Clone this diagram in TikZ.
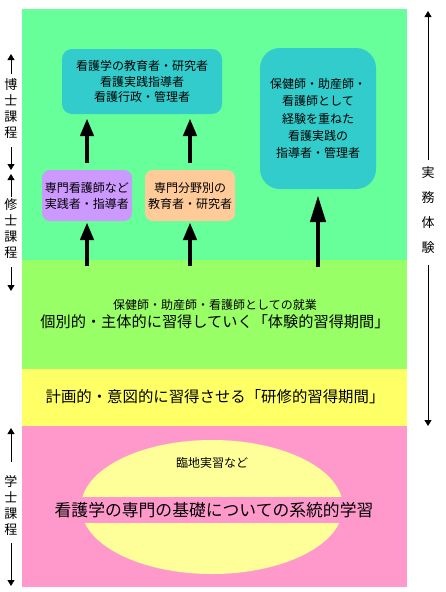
\documentclass[tikz,border=0pt]{standalone}
\usepackage{fontspec}
\setmainfont{Noto Sans CJK JP}
\usetikzlibrary{arrows.meta}
\definecolor{bgA}{HTML}{66FF99}
\definecolor{bgB}{HTML}{99FF66}
\definecolor{bgC}{HTML}{FFFF66}
\definecolor{bgD}{HTML}{FF99CC}
\definecolor{ellC}{HTML}{FFFF99}
\definecolor{cyanC}{HTML}{33CCCC}
\definecolor{purpC}{HTML}{CC99FF}
\definecolor{orgC}{HTML}{FFCC99}
\begin{document}
\begin{tikzpicture}[x=1pt,y=-1pt,
  boxtext/.style={inner sep=0pt, align=center, font=\fontsize{12}{15.5}\selectfont},
  bigarrow/.style={line width=4.5pt, -{Triangle[length=18pt,width=13pt]}},
  longarrow/.style={line width=4.5pt, -{Triangle[length=27pt,width=15pt]}},
  thinarrow/.style={line width=0.8pt, -{Triangle[length=6pt,width=7pt]}},
  sidelab/.style={inner sep=0pt, align=center, font=\fontsize{13}{15.7}\selectfont},
  bandtext/.style={inner sep=0pt, align=center}]
\useasboundingbox (0,0) rectangle (446,592);
\fill[white] (0,0) rectangle (446,592);
% bands
\fill[bgA] (22,9) rectangle (407,260);
\fill[bgB] (22,260) rectangle (407,369);
\fill[bgC] (22,369) rectangle (407,426);
\fill[bgD] (22,426) rectangle (407,587);
% ellipse
\fill[ellC] (212,507) ellipse [x radius=131, y radius=67];
% boxes
\node[boxtext, fill=cyanC, rounded corners=10pt, minimum width=160pt, minimum height=65pt] (doc) at (142,81.5)
  {看護学の教育者・研究者\\看護実践指導者\\看護行政・管理者};
\node[boxtext, fill=cyanC, rounded corners=20pt, minimum width=116pt, minimum height=141pt,
  font=\fontsize{12}{17.2}\selectfont] (prac) at (318,118.5)
  {保健師・助産師・\\看護師として\\経験を重ねた\\看護実践の\\指導者・管理者};
\node[boxtext, fill=purpC, rounded corners=8pt, minimum width=90pt, minimum height=51pt,
  font=\fontsize{12}{16}\selectfont] (spec) at (87,195.5)
  {専門看護師など\\実践者・指導者};
\node[boxtext, fill=orgC, rounded corners=8pt, minimum width=90pt, minimum height=51pt,
  font=\fontsize{12}{16}\selectfont] (field) at (190,195.5)
  {専門分野別の\\教育者・研究者};
% big arrows
\coordinate (s1) at (87,266);
\coordinate (s2) at (190,266);
\coordinate (s3) at (318,267);
\draw[bigarrow, shorten >=1pt] (s1) -- (spec.south);
\draw[bigarrow, shorten >=1pt] (s2) -- (field.south);
\draw[longarrow, shorten >=6pt] (s3) -- (prac.south);
\draw[bigarrow, shorten <=7pt, shorten >=4pt] (spec.north) -- (spec.north |- doc.south);
\draw[bigarrow, shorten <=7pt, shorten >=4pt] (field.north) -- (field.north |- doc.south);
% band texts
\node[bandtext, font=\fontsize{12}{14}\selectfont] (job) at (215,305) {保健師・助産師・看護師としての就業};
\node[bandtext, font=\fontsize{15.2}{18}\selectfont] (exp) at (215,322) {個別的・主体的に習得していく「体験的習得期間」};
\node[bandtext, font=\fontsize{15.4}{18}\selectfont] (train) at (215,397) {計画的・意図的に習得させる「研修的習得期間」};
\node[bandtext, font=\fontsize{12}{14}\selectfont] (clin) at (212,463) {臨地実習など};
\node[bandtext, fill=bgD, minimum height=26pt, minimum width=322pt, font=\fontsize{16.8}{20}\selectfont] (basic) at (214,510)
  {看護学の専門の基礎についての系統的学習};
% left side labels
\node[sidelab] (ldoc) at (11,108.5) {博\\士\\課\\程};
\coordinate (ldT) at (11,54);
\coordinate (ldTs) at (11,74);
\coordinate (ldB) at (11,170);
\coordinate (ldBs) at (11,147);
\draw[thinarrow] (ldTs) -- (ldT);
\draw[thinarrow] (ldBs) -- (ldB);
\node[sidelab] (lmas) at (11,228.5) {修\\士\\課\\程};
\coordinate (lmT) at (11,174);
\coordinate (lmTs) at (11,197);
\coordinate (lmB) at (11,291);
\coordinate (lmBs) at (11,267);
\draw[thinarrow] (lmTs) -- (lmT);
\draw[thinarrow] (lmBs) -- (lmB);
\node[sidelab, font=\fontsize{13}{16}\selectfont] (lbac) at (11,506) {学\\士\\課\\程};
\coordinate (lbT) at (11,428);
\coordinate (lbTs) at (11,462);
\coordinate (lbB) at (11,586);
\coordinate (lbBs) at (11,543);
\draw[thinarrow] (lbTs) -- (lbT);
\draw[thinarrow] (lbBs) -- (lbB);
% right side label
\node[sidelab, font=\fontsize{13}{25}\selectfont] (rexp) at (428,210.5) {実\\務\\体\\験};
\coordinate (rT) at (428,11);
\coordinate (rTs) at (428,160);
\coordinate (rB) at (428,426);
\coordinate (rBs) at (428,265);
\draw[thinarrow] (rTs) -- (rT);
\draw[thinarrow] (rBs) -- (rB);
\end{tikzpicture}
\end{document}
